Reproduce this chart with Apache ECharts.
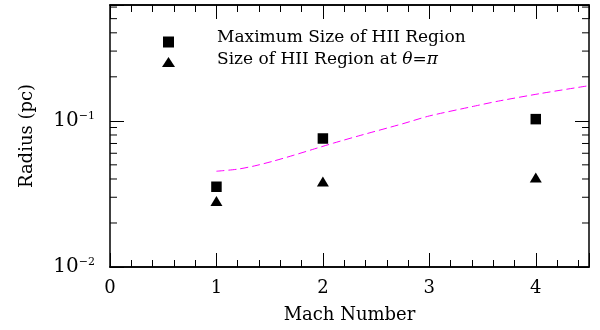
<!DOCTYPE html>
<html>
<head>
<meta charset="utf-8">
<script src="https://cdn.jsdelivr.net/npm/echarts@6/dist/echarts.min.js"></script>
<style>
  html, body { margin: 0; padding: 0; background: #fff; }
  #chart { width: 600px; height: 330px; }
</style>
</head>
<body>
<div id="chart"></div>
<script>
// data
const machNumbers = [1, 2, 4];
const maxSize = [0.0354, 0.0757, 0.1027];
const sizeAtPi = [0.0283, 0.0385, 0.0410];

const curveMach = [1, 1.2, 1.36, 1.53, 1.72, 1.9, 2.1, 2.35, 2.75, 3, 3.4, 3.65, 4.05, 4.5];
const curveRadius = [0.0452, 0.0467, 0.0492, 0.0529, 0.058, 0.0636, 0.0704, 0.0794, 0.0955, 0.108, 0.125, 0.1365, 0.154, 0.174];

const yMinorTicks = [0.02, 0.03, 0.04, 0.05, 0.06, 0.07, 0.08, 0.09, 0.2, 0.3, 0.4, 0.5, 0.6];

const names = ['Maximum Size of HII Region', 'Size of HII Region at \u03b8=\u03c0'];

const font = 'DejaVu Serif';
const black = '#000';

function pairs(xs, ys) {
    return xs.map((x, i) => [x, ys[i]]);
}

function xAxis(position, interval, tickLen, labels) {
    return {
        type: 'value',
        position,
        min: 0,
        max: 4.5,
        interval,
        axisLine: { show: true, onZero: false, lineStyle: { color: black, width: 1.5 } },
        axisTick: { show: true, inside: true, length: tickLen, lineStyle: { color: black, width: 1 } },
        axisLabel: {
            show: labels,
            margin: 12,
            color: black,
            fontFamily: font,
            fontSize: 18,
            formatter: v => Number.isInteger(v) ? String(v) : ''
        },
        splitLine: { show: false }
    };
}

function yAxis(position, labels) {
    return {
        type: 'log',
        logBase: 10,
        position,
        min: 0.01,
        max: 0.62,
        axisLine: { show: true, onZero: false, lineStyle: { color: black, width: 1.5 } },
        axisTick: { show: true, inside: true, length: 14, lineStyle: { color: black, width: 1 } },
        minorTick: { show: false },
        axisLabel: {
            show: labels,
            margin: 15,
            color: black,
            fontFamily: font,
            fontSize: 20,
            formatter: v => {
                const e = Math.log10(v);
                if (Math.abs(e - Math.round(e)) > 1e-6) return '';
                return '10{sup|\u2212' + Math.abs(Math.round(e)) + '}';
            },
            rich: {
                sup: { fontFamily: font, fontSize: 11, color: black, padding: [0, 0, 10, 0] }
            }
        },
        splitLine: { show: false }
    };
}

// legend text as rich tokens, greek letters in italic
function legendText(name) {
    const parts = name.split(/([\u03b8\u03c0])/).filter(s => s.length);
    return parts.map((s, i) => {
        const style = /[\u03b8\u03c0]/.test(s) ? 'i' : 't';
        return '{' + style + (i === 0 ? '0' : '') + '|' + s + '}';
    }).join('');
}

function legend(name, icon, left, top, w, h, raise, gap) {
    const base = { color: black, fontFamily: font, fontSize: 17 };
    return {
        data: [name],
        orient: 'vertical',
        left,
        top,
        icon,
        itemWidth: w,
        itemHeight: h,
        formatter: legendText,
        textStyle: {
            rich: {
                t0: Object.assign({}, base, { padding: [0, 0, raise, gap] }),
                t: Object.assign({}, base, { padding: [0, 0, raise, 0] }),
                i: Object.assign({}, base, { fontStyle: 'italic', padding: [0, 0, raise, 0] })
            }
        }
    };
}

const chart = echarts.init(document.getElementById('chart'));

const option = {
    animation: false,
    backgroundColor: '#fff',
    grid: { left: 110, right: 11, top: 5, bottom: 63 },
    xAxis: [
        Object.assign(xAxis('bottom', 1, 14, true), {
            name: 'Mach Number',
            nameLocation: 'middle',
            nameGap: 39,
            nameTextStyle: { color: black, fontFamily: font, fontSize: 18 }
        }),
        xAxis('bottom', 0.2, 7, false),
        xAxis('top', 1, 14, false),
        xAxis('top', 0.2, 7, false)
    ],
    yAxis: [
        Object.assign(yAxis('left', true), {
            name: 'Radius (pc)',
            nameLocation: 'middle',
            nameGap: 74,
            nameTextStyle: { color: black, fontFamily: font, fontSize: 18 }
        }),
        yAxis('right', false)
    ],
    legend: [
        legend(names[0], 'rect', 158, 24, 11, 11, 9, 38),
        legend(names[1], 'triangle', 157, 46, 13, 10, 5, 37)
    ],
    series: [
        {
            type: 'custom',
            silent: true,
            clip: true,
            data: yMinorTicks.map(v => [0, v]),
            renderItem: (params, api) => {
                const p = api.coord([0, api.value(1)]);
                const cs = params.coordSys;
                const style = { stroke: black, lineWidth: 1 };
                return {
                    type: 'group',
                    children: [
                        { type: 'line', shape: { x1: cs.x, y1: p[1], x2: cs.x + 7, y2: p[1] }, style },
                        { type: 'line', shape: { x1: cs.x + cs.width - 7, y1: p[1], x2: cs.x + cs.width, y2: p[1] }, style }
                    ]
                };
            }
        },
        {
            type: 'line',
            data: pairs(curveMach, curveRadius),
            smooth: 0.25,
            showSymbol: false,
            lineStyle: { color: '#ff00ff', width: 1, type: [8, 4] }
        },
        {
            name: names[0],
            type: 'scatter',
            data: pairs(machNumbers, maxSize),
            symbol: 'rect',
            symbolSize: 10.5,
            itemStyle: { color: black, opacity: 1 }
        },
        {
            name: names[1],
            type: 'scatter',
            data: pairs(machNumbers, sizeAtPi),
            symbol: 'triangle',
            symbolSize: [12, 10],
            itemStyle: { color: black, opacity: 1 }
        }
    ]
};

chart.setOption(option);
</script>
</body>
</html>
